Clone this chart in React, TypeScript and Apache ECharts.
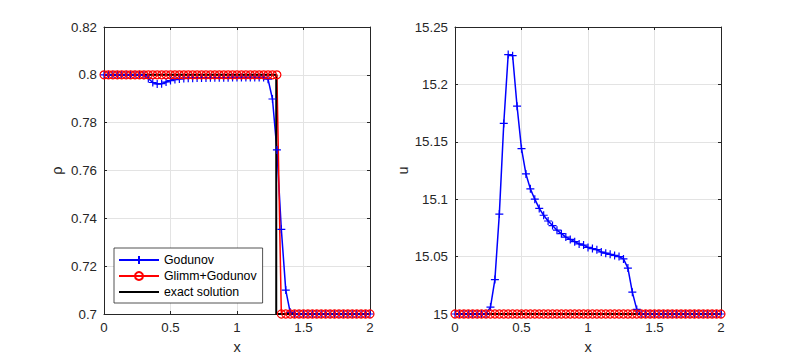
import React, { useEffect, useRef } from "react";
import * as echarts from "echarts";

// Mesh: 60 cells on [0, 2]
const N_CELLS = 60;
const X_MAX = 2;
const xGrid: number[] = Array.from({ length: N_CELLS + 1 }, (_, i) => (i * X_MAX) / N_CELLS);

// Density (left panel)
const rhoGodunov: number[] = [
  0.8, 0.8, 0.8, 0.8, 0.8, 0.8, 0.8, 0.8, 0.8,
  0.7998, 0.7985, 0.7968, 0.7962, 0.7963, 0.797, 0.7976, 0.798, 0.7983, 0.7985,
  0.7986, 0.7986, 0.7987, 0.7987, 0.7987, 0.7988, 0.7988, 0.7988, 0.7988, 0.7988,
  0.7989, 0.7989, 0.7989, 0.7989, 0.7989, 0.7989, 0.7989, 0.7989,
  0.7982, 0.7899, 0.7686, 0.7354, 0.71, 0.7007,
  0.7, 0.7, 0.7, 0.7, 0.7, 0.7, 0.7, 0.7, 0.7, 0.7, 0.7, 0.7, 0.7, 0.7, 0.7, 0.7, 0.7, 0.7,
];
const rhoGlimm: number[] = [
  0.8, 0.8, 0.8, 0.8, 0.8, 0.8, 0.8, 0.8, 0.8, 0.8,
  0.8, 0.8, 0.8, 0.8, 0.8, 0.8, 0.8, 0.8, 0.8, 0.8,
  0.8, 0.8, 0.8, 0.8, 0.8, 0.8, 0.8, 0.8, 0.8, 0.8,
  0.8, 0.8, 0.8, 0.8, 0.8, 0.8, 0.8, 0.8, 0.8, 0.8,
  0.7, 0.7, 0.7, 0.7, 0.7, 0.7, 0.7, 0.7, 0.7, 0.7,
  0.7, 0.7, 0.7, 0.7, 0.7, 0.7, 0.7, 0.7, 0.7, 0.7, 0.7,
];
const rhoExactX: number[] = [0, 1.295, 1.295, 2];
const rhoExactY: number[] = [0.8, 0.8, 0.7, 0.7];

// Velocity (right panel)
const uGodunov: number[] = [
  15, 15, 15, 15, 15, 15, 15, 15,
  15.006, 15.03, 15.087, 15.166, 15.226, 15.225, 15.181, 15.144, 15.122, 15.109, 15.1,
  15.092, 15.086, 15.081, 15.077, 15.073, 15.07, 15.067, 15.065, 15.063, 15.061,
  15.06, 15.058, 15.057, 15.056, 15.054, 15.053, 15.052, 15.051, 15.05, 15.048,
  15.04, 15.019, 15.004,
  15, 15, 15, 15, 15, 15, 15, 15, 15, 15, 15, 15, 15, 15, 15, 15, 15, 15, 15,
];
const uGlimm: number[] = [
  15, 15, 15, 15, 15, 15, 15, 15, 15, 15,
  15, 15, 15, 15, 15, 15, 15, 15, 15, 15,
  15, 15, 15, 15, 15, 15, 15, 15, 15, 15,
  15, 15, 15, 15, 15, 15, 15, 15, 15, 15,
  15, 15, 15, 15, 15, 15, 15, 15, 15, 15,
  15, 15, 15, 15, 15, 15, 15, 15, 15, 15, 15,
];
const uExactX: number[] = [0, 2];
const uExactY: number[] = [15, 15];

const seriesNames = ["Godunov", "Glimm+Godunov", "exact solution"];
const xLabel = "x";
const yLabels = ["ρ", "u"];

const FONT = "'Liberation Sans', Arial, Helvetica, sans-serif";
const AX = "#262626";
const PLUS = "path://M5 0 L5 10 M0 5 L10 5";

const zip = (xs: number[], ys: number[]) => xs.map((x, i) => [x, ys[i]]);

export default function App() {
  const ref = useRef<HTMLDivElement>(null);
  useEffect(() => {
    if (!ref.current) return;
    const chart = echarts.init(ref.current, undefined, { renderer: "svg" });
    const grids = [
      { left: 104, top: 27, width: 266, height: 288 },
      { left: 455, top: 27, width: 266, height: 288 },
    ];
    const mainX = (gi: number) => ({
      type: "value",
      gridIndex: gi,
      min: 0,
      max: 2,
      interval: 0.5,
      name: xLabel,
      nameLocation: "middle",
      nameGap: 25,
      nameTextStyle: { color: AX, fontSize: 14.5, fontFamily: FONT },
      axisLine: { show: true, onZero: false, lineStyle: { color: AX, width: 1 } },
      axisTick: { show: true, inside: true, length: 3, lineStyle: { color: AX } },
      axisLabel: { color: AX, fontSize: 13.3, fontFamily: FONT, margin: 7 },
      splitLine: { show: true, lineStyle: { color: "#e3e3e3", width: 1 } },
    });
    const topX = (gi: number) => ({
      type: "value",
      gridIndex: gi,
      position: "top",
      min: 0,
      max: 2,
      interval: 0.5,
      axisLine: { show: true, onZero: false, lineStyle: { color: AX, width: 1 } },
      axisTick: { show: true, inside: true, length: 3, lineStyle: { color: AX } },
      axisLabel: { show: false },
      splitLine: { show: false },
    });
    const mainY = (gi: number, min: number, max: number, interval: number, name: string, gap: number) => ({
      type: "value",
      gridIndex: gi,
      min,
      max,
      interval,
      name,
      nameLocation: "middle",
      nameGap: gap,
      nameTextStyle: { color: AX, fontSize: 14.5, fontFamily: FONT },
      axisLine: { show: true, onZero: false, lineStyle: { color: AX, width: 1 } },
      axisTick: { show: true, inside: true, length: 3, lineStyle: { color: AX } },
      axisLabel: { color: AX, fontSize: 13.3, fontFamily: FONT, margin: 7 },
      splitLine: { show: true, lineStyle: { color: "#e3e3e3", width: 1 } },
    });
    const rightY = (gi: number, min: number, max: number, interval: number) => ({
      type: "value",
      gridIndex: gi,
      position: "right",
      min,
      max,
      interval,
      axisLine: { show: true, onZero: false, lineStyle: { color: AX, width: 1 } },
      axisTick: { show: true, inside: true, length: 3, lineStyle: { color: AX } },
      axisLabel: { show: false },
      splitLine: { show: false },
    });

    const godunov = (xi: number, yi: number, ys: number[]) => ({
      name: seriesNames[0],
      type: "line",
      xAxisIndex: xi,
      yAxisIndex: yi,
      data: zip(xGrid, ys),
      color: "#0000ff",
      symbol: PLUS,
      symbolSize: 8,
      showAllSymbol: true,
      clip: false,
      lineStyle: { color: "#0000ff", width: 1.5 },
      itemStyle: { color: "#0000ff", borderColor: "#0000ff", borderWidth: 1.2 },
    });
    const glimm = (xi: number, yi: number, ys: number[]) => ({
      name: seriesNames[1],
      type: "line",
      xAxisIndex: xi,
      yAxisIndex: yi,
      data: zip(xGrid, ys),
      color: "#ff0000",
      symbol: "circle",
      symbolSize: 8,
      showAllSymbol: true,
      clip: false,
      lineStyle: { color: "#ff0000", width: 1.5 },
      itemStyle: { color: "rgba(255,255,255,0)", borderColor: "#ff0000", borderWidth: 1.2 },
    });
    const exact = (xi: number, yi: number, xs: number[], ys: number[]) => ({
      name: seriesNames[2],
      type: "line",
      xAxisIndex: xi,
      yAxisIndex: yi,
      data: zip(xs, ys),
      color: "#000000",
      symbol: "none",
      clip: false,
      lineStyle: { color: "#000000", width: 2 },
    });

    chart.setOption({
      animation: false,
      backgroundColor: "#ffffff",
      textStyle: { fontFamily: FONT },
      grid: grids,
      xAxis: [mainX(0), mainX(1), topX(0), topX(1)],
      yAxis: [
        mainY(0, 0.7, 0.82, 0.02, yLabels[0], 40),
        mainY(1, 15, 15.25, 0.05, yLabels[1], 44),
        rightY(0, 0.7, 0.82, 0.02),
        rightY(1, 15, 15.25, 0.05),
      ],
      legend: {
        left: 114,
        top: 248,
        orient: "vertical",
        data: [
          { name: seriesNames[0] },
          { name: seriesNames[1] },
          { name: seriesNames[2], itemStyle: { opacity: 0 } },
        ],
        itemWidth: 40,
        itemHeight: 10,
        itemGap: 4,
        padding: [6, 6, 5, 4],
        backgroundColor: "#ffffff",
        borderColor: AX,
        borderWidth: 0.8,
        borderRadius: 0,
        textStyle: { color: "#000000", fontSize: 12.3, fontFamily: FONT },
      },
      series: [
        godunov(0, 0, rhoGodunov),
        glimm(0, 0, rhoGlimm),
        exact(0, 0, rhoExactX, rhoExactY),
        godunov(1, 1, uGodunov),
        glimm(1, 1, uGlimm),
        exact(1, 1, uExactX, uExactY),
      ],
    });
    return () => chart.dispose();
  }, []);
  return (
    <div
      ref={ref}
      style={{ position: "fixed", left: 0, top: 0, width: 797, height: 359 }}
    />
  );
}
